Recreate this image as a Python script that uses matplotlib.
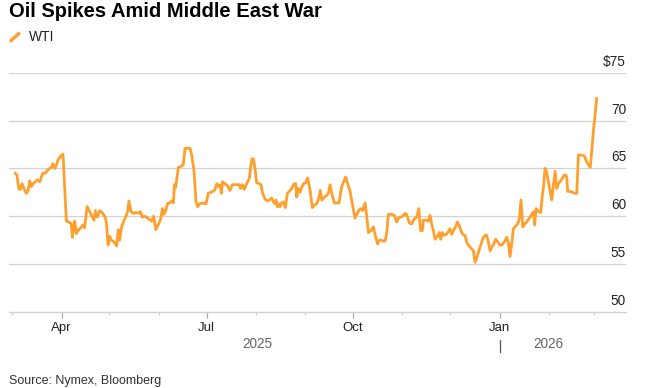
import numpy as np
import pandas as pd
import matplotlib
matplotlib.use("Agg")
import matplotlib.pyplot as plt
import matplotlib.dates as mdates
import matplotlib.transforms as mtransforms
from matplotlib.lines import Line2D

plt.rcParams['font.family'] = ['Liberation Sans', 'DejaVu Sans']

# WTI front-month price: days since 2025-02-27, and $ per barrel
START = pd.Timestamp('2025-02-27')
days = [
    4.0, 5.0, 6.1, 7.1, 8.2, 9.4, 10.9, 11.9, 13.0, 14.0, 15.1, 16.5, 17.8, 19.3, 20.3, 21.3,
    22.8, 24.1, 25.5, 26.6, 27.6, 28.7, 29.7, 30.8, 32.4, 33.9, 36.0, 37.7, 39.1, 39.8, 40.6,
    41.2, 42.3, 43.3, 45.0, 46.5, 47.5, 49.0, 50.6, 52.1, 53.4, 54.2, 55.5, 56.9, 58.4, 60.1,
    61.1, 62.2, 63.2, 64.2, 65.3, 66.5, 67.6, 68.6, 69.5, 70.7, 71.8, 73.2, 74.5, 75.3, 76.6,
    78.1, 79.5, 81.2, 82.4, 83.7, 85.0, 86.4, 87.9, 89.6, 90.8, 92.1, 93.7, 95.2, 96.3, 97.3,
    98.4, 99.4, 100.9, 102.1, 103.2, 103.8, 104.6, 106.3, 108.0, 109.4, 110.5, 112.2, 113.6,
    114.7, 116.1, 117.4, 118.4, 119.5, 122.0, 123.7, 125.1, 126.6, 127.9, 129.3, 130.4, 131.4,
    132.5, 133.3, 134.1, 135.6, 137.1, 138.7, 140.2, 141.9, 143.3, 144.6, 145.4, 146.7, 147.7,
    149.2, 150.9, 151.7, 152.5, 153.4, 154.4, 155.5, 157.2, 158.2, 159.2, 160.7, 162.2, 163.4,
    164.9, 165.9, 167.0, 167.6, 168.5, 169.3, 170.1, 171.2, 172.2, 173.5, 174.7, 176.0, 177.4,
    178.9, 180.0, 180.6, 181.6, 182.7, 183.7, 184.8, 186.2, 187.5, 189.0, 190.4, 191.7, 193.1,
    194.2, 195.4, 196.3, 198.0, 199.4, 200.5, 201.5, 202.6, 204.2, 205.7, 207.2, 208.8, 210.1,
    211.3, 212.6, 214.1, 215.5, 217.2, 218.7, 219.9, 221.0, 222.0, 223.5, 224.5, 225.6, 227.2,
    228.7, 230.2, 231.4, 232.5, 233.9, 235.0, 236.0, 237.1, 238.1, 240.2, 241.9, 243.4, 244.4,
    245.5, 247.1, 248.6, 249.6, 251.3, 252.8, 254.2, 255.9, 257.2, 258.4, 259.5, 260.1, 261.8,
    263.2, 264.3, 265.3, 266.4, 267.4, 268.9, 270.1, 271.0, 272.0, 273.1, 274.3, 275.4, 276.8,
    277.9, 278.9, 280.4, 281.4, 282.7, 283.7, 284.8, 286.3, 287.3, 288.3, 289.4, 290.4, 291.5,
    292.5, 293.6, 294.6, 295.7, 296.7, 297.8, 298.8, 299.9, 300.9, 302.0, 303.0, 304.0, 305.5,
    306.8, 308.2, 309.3, 310.9, 312.4, 313.5, 314.5, 315.6, 316.6, 318.1, 319.3, 320.4, 321.4,
    322.5, 323.9, 325.4, 326.6, 328.1, 329.2, 330.0, 330.8, 332.3, 333.8, 334.8, 335.6, 336.5,
    337.5, 338.6, 339.8, 340.7, 341.7, 342.8, 343.8, 344.8, 345.9, 347.4, 348.6, 349.5, 350.1,
    350.7, 352.2, 353.6, 355.3, 356.4, 357.4, 359.1, 361.2, 362.6, 364.1, 364.9, 366.8, 368.9,
]
wti = [
    64.5, 64.3, 62.9, 62.8, 63.4, 62.9, 62.4, 62.6, 63.7, 63.1, 63.4, 63.6, 63.8, 63.6, 64.1, 64.5,
    64.5, 64.8, 65.0, 65.1, 65.5, 65.0, 65.3, 65.9, 66.3, 66.5, 59.5, 59.4, 59.2, 57.8, 58.9,
    59.5, 58.2, 58.5, 58.8, 59.1, 58.8, 61.0, 60.5, 60.0, 59.6, 60.6, 59.9, 60.6, 60.4, 60.0,
    59.4, 57.0, 57.9, 57.5, 57.4, 57.2, 56.9, 58.6, 57.5, 58.9, 59.4, 59.9, 60.5, 61.6, 60.5,
    60.3, 60.4, 60.3, 60.5, 59.9, 60.0, 59.9, 59.7, 59.5, 60.0, 58.6, 59.1, 59.7, 60.8, 60.2,
    60.6, 61.3, 61.4, 61.6, 61.4, 63.3, 63.0, 65.1, 65.2, 65.4, 67.1, 67.1, 67.1,
    66.4, 64.8, 61.5, 61.0, 61.3, 61.4, 61.3, 62.4, 62.5, 62.6, 62.8, 63.4, 63.1,
    63.3, 62.4, 63.6, 63.4, 63.2, 62.7, 63.3, 63.3, 63.3, 63.3, 62.9, 63.3, 62.8,
    63.4, 64.0, 65.2, 66.0, 66.0, 65.0, 63.5, 63.4, 63.3, 62.4, 61.8, 61.6, 61.7,
    61.9, 61.5, 61.3, 61.7, 61.0, 61.3, 61.0, 61.4, 61.5, 60.9, 62.4, 62.6, 62.9,
    63.4, 63.4, 62.0, 62.9, 62.5, 63.0, 63.4, 63.5, 64.0, 62.7, 60.9, 61.2, 61.3,
    61.7, 62.7, 61.7, 62.0, 62.2, 62.4, 63.3, 62.4, 61.4, 61.4, 61.4, 63.1, 63.6,
    64.1, 63.4, 62.6, 61.3, 59.8, 60.3, 60.7, 60.8, 60.6, 61.4, 60.1, 58.3, 58.5,
    58.9, 57.8, 57.1, 57.5, 57.5, 57.4, 57.4, 58.2, 60.2, 60.2, 60.1, 59.4, 59.8,
    59.9, 60.0, 60.3, 60.2, 59.3, 59.2, 59.7, 59.9, 60.8, 58.5, 58.5, 59.6, 59.6,
    59.5, 60.1, 59.2, 58.5, 57.6, 57.9, 58.3, 57.6, 58.3, 58.0, 58.1, 58.3, 58.7,
    58.1, 58.5, 58.9, 59.4, 59.0, 58.5, 58.1, 58.0, 57.3, 57.0, 56.8, 56.6, 56.4,
    55.2, 55.6, 56.2, 56.8, 57.3, 57.8, 58.0, 58.0, 57.3, 56.4, 56.8, 57.0, 57.6,
    57.3, 57.0, 57.0, 57.3, 57.8, 57.2, 55.8, 57.2, 58.7, 59.0, 59.2, 59.8, 61.7,
    58.9, 59.2, 59.5, 59.8, 60.2, 60.45, 59.1, 60.8, 60.5, 60.4, 62.2, 63.2, 65.0,
    64.6, 63.6, 62.5, 61.7, 63.2, 64.7, 62.9, 63.4, 63.6, 64.0, 64.3, 64.3, 64.1,
    62.6, 62.6, 62.5, 62.4, 62.4, 66.4, 66.4, 66.3, 65.7, 65.3, 65.1, 68.8, 72.3,
]
y_ticks = [50, 55, 60, 65, 70, 75]
y_labels = ['50', '55', '60', '65', '70', '$75']
major_months = ['2025-04-01', '2025-07-01', '2025-10-01', '2026-01-01']
major_labels = ['Apr', 'Jul', 'Oct', 'Jan']
minor_months = ['2025-03-01', '2025-05-01', '2025-06-01', '2025-08-01', '2025-09-01',
                '2025-11-01', '2025-12-01', '2026-02-01', '2026-03-01']

dates = START + pd.to_timedelta(days, unit='D')
ORANGE = '#FFA02E'
GRID = '#d2d2d2'

fig = plt.figure(figsize=(6.49, 3.88), dpi=100)
W, H = 649, 388
ax = fig.add_axes([9 / W, (H - 312) / H, (626 - 9) / W, (312 - 72.7) / H])

ax.plot(dates, wti, color=ORANGE, lw=2.0, solid_joinstyle='round', zorder=3)

ax.set_ylim(50, 75)
ax.set_xlim(START, START + pd.Timedelta(days=387.3))

# horizontal gridlines, labels sit above them at the right end
for v in y_ticks[1:]:
    ax.axhline(v, color=GRID, lw=0.9, zorder=1)
lab_tr = mtransforms.offset_copy(ax.get_yaxis_transform(), fig=fig, x=0, y=5, units='points')
for v, s in zip(y_ticks, y_labels):
    ax.text(1.0, v, s, transform=lab_tr, ha='right', va='baseline', fontsize=9.8, color='#222222')
ax.set_yticks([])

for s in ['top', 'left', 'right']:
    ax.spines[s].set_visible(False)
ax.spines['bottom'].set_color(GRID)
ax.spines['bottom'].set_linewidth(1.0)

ax.set_xticks(pd.to_datetime(major_months))
ax.set_xticklabels(major_labels)
ax.set_xticks(pd.to_datetime(minor_months), minor=True)
ax.tick_params(axis='x', which='major', length=4, width=0.9, color='#aaaaaa',
               labelsize=9.5, labelcolor='#222222', pad=3)
ax.tick_params(axis='x', which='minor', length=2.2, width=0.8, color='#cccccc')

# year labels, centred on each year's span of data
jan = pd.Timestamp('2026-01-01')
for a, b, yr in [(dates[0], jan, '2025'), (jan, dates[-1], '2026')]:
    mid = a + (b - a) / 2
    ax.annotate(yr, xy=(mid, 0), xycoords=('data', 'axes fraction'), xytext=(0, -23),
                textcoords='offset points', ha='center', va='center', fontsize=9.8, color='#666666')
ax.plot([jan, jan], [-0.117, -0.167], transform=ax.get_xaxis_transform(),
        color='#555555', lw=0.9, clip_on=False)

# title, legend and source
fig.text(9 / W, 1 - 17.3 / H, 'Oil Spikes Amid Middle East War', fontsize=14.5,
         fontweight='bold', ha='left', va='baseline')
fig.add_artist(Line2D([10 / W, 20 / W], [1 - 41.5 / H, 1 - 32.5 / H], color=ORANGE, lw=2.4,
                      solid_capstyle='butt'))
fig.text(29 / W, 1 - 40.7 / H, 'WTI', fontsize=10, ha='left', va='baseline', color='#222222')
fig.text(9 / W, 1 - 384 / H, 'Source: Nymex, Bloomberg', fontsize=9, ha='left',
         va='baseline', color='#333333')

fig.savefig('out.png', dpi=100)
